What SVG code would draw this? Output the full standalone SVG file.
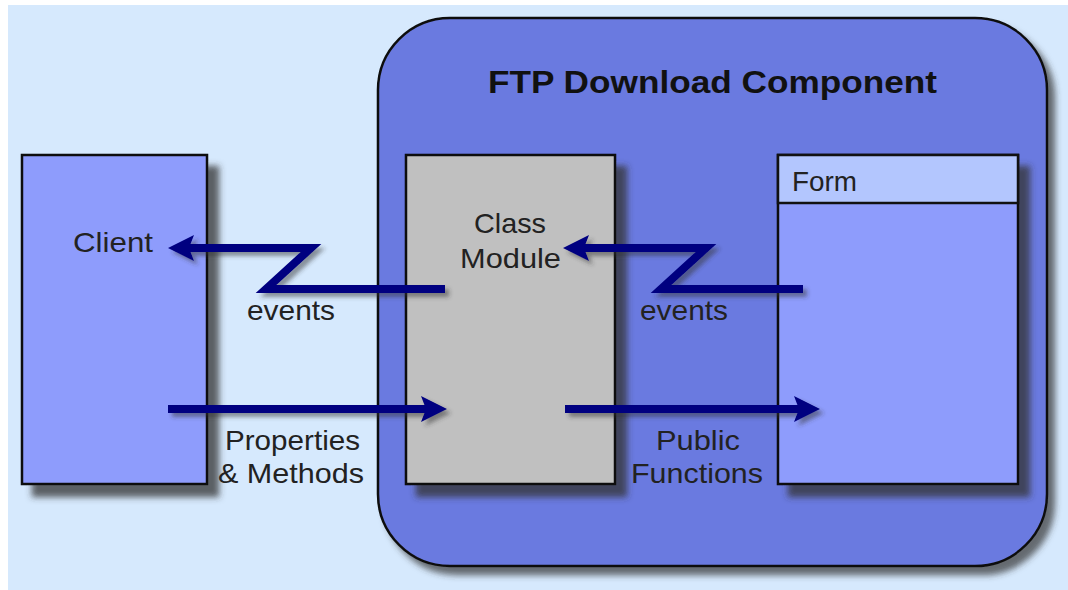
<svg xmlns="http://www.w3.org/2000/svg" width="1068" height="590" viewBox="0 0 1068 590">
<style>
.box{stroke:#111;stroke-width:2.5}
.lbl{font-family:"Liberation Sans",Arial,sans-serif;font-size:28px;fill:#222}
.title{font-family:"Liberation Sans",Arial,sans-serif;font-size:32px;font-weight:bold;fill:#111}
.arr{fill:none;stroke:#000080;stroke-width:8;stroke-linejoin:miter}
.head{fill:#000080}
</style>
<defs>
<filter id="sh" x="-10%" y="-10%" width="130%" height="130%">
<feGaussianBlur in="SourceAlpha" stdDeviation="3"/>
<feOffset dx="11" dy="12" result="b"/>
<feFlood flood-color="#333" flood-opacity="0.75"/>
<feComposite in2="b" operator="in"/>
<feMerge><feMergeNode/><feMergeNode in="SourceGraphic"/></feMerge>
</filter>
<filter id="sh2" x="-10%" y="-10%" width="130%" height="130%">
<feGaussianBlur in="SourceAlpha" stdDeviation="3"/>
<feOffset dx="7" dy="8" result="b"/>
<feFlood flood-color="#333" flood-opacity="0.7"/>
<feComposite in2="b" operator="in"/>
<feMerge><feMergeNode/><feMergeNode in="SourceGraphic"/></feMerge>
</filter>
<filter id="ash" x="-10%" y="-30%" width="130%" height="170%">
<feGaussianBlur in="SourceAlpha" stdDeviation="2"/>
<feOffset dx="4" dy="4" result="b"/>
<feFlood flood-color="#333" flood-opacity="0.5"/>
<feComposite in2="b" operator="in"/>
<feMerge><feMergeNode/><feMergeNode in="SourceGraphic"/></feMerge>
</filter>
</defs>
<rect x="0" y="0" width="1068" height="590" fill="#ffffff"/>
<rect x="8" y="5" width="1060" height="585" fill="#d6e9fd"/>

<g id="component">
<rect class="box" x="378" y="18" width="669" height="548" rx="72" ry="72" fill="#6a7ae0" filter="url(#sh2)"/>
<text class="title" x="488" y="93" textLength="449" lengthAdjust="spacingAndGlyphs">FTP Download Component</text>
</g>

<g id="client">
<rect class="box" x="22" y="155" width="185" height="329" fill="#8e9cfc" filter="url(#sh)"/>
<text class="lbl" x="73" y="252" textLength="80" lengthAdjust="spacingAndGlyphs">Client</text>
</g>

<g id="classmodule">
<rect class="box" x="406" y="155" width="209" height="329" fill="#c0c0c0" filter="url(#sh)"/>
<text class="lbl" x="474" y="233" textLength="72" lengthAdjust="spacingAndGlyphs">Class</text>
<text class="lbl" x="460" y="268" textLength="101" lengthAdjust="spacingAndGlyphs">Module</text>
</g>

<g id="form">
<rect class="box" x="778" y="155" width="240" height="329" fill="#8e9cfc" filter="url(#sh)"/>
<rect class="box" x="778" y="155" width="240" height="48" fill="#b3c6fe"/>
<text class="lbl" x="792" y="191" textLength="65" lengthAdjust="spacingAndGlyphs">Form</text>
</g>

<g id="connectors" filter="url(#ash)">
<path class="arr" d="M445,289 H266 L311,248 H188"/>
<polygon class="head" points="168,248 194,235 189,248 194,261"/>
<path class="arr" d="M803,289 H661 L706,248 H583"/>
<polygon class="head" points="563,248 589,235 584,248 589,261"/>
<path class="arr" d="M168,409 H428"/>
<polygon class="head" points="447,409 421,396 426,409 421,422"/>
<path class="arr" d="M565,409 H801"/>
<polygon class="head" points="820,409 794,396 799,409 794,422"/>
</g>

<g id="labels">
<text class="lbl" x="247" y="320" textLength="88" lengthAdjust="spacingAndGlyphs">events</text>
<text class="lbl" x="640" y="320" textLength="88" lengthAdjust="spacingAndGlyphs">events</text>
<text class="lbl" x="225" y="450" textLength="135" lengthAdjust="spacingAndGlyphs">Properties</text>
<text class="lbl" x="218" y="483" textLength="146" lengthAdjust="spacingAndGlyphs">&amp; Methods</text>
<text class="lbl" x="656" y="450" textLength="84" lengthAdjust="spacingAndGlyphs">Public</text>
<text class="lbl" x="631" y="483" textLength="132" lengthAdjust="spacingAndGlyphs">Functions</text>
</g>
</svg>
